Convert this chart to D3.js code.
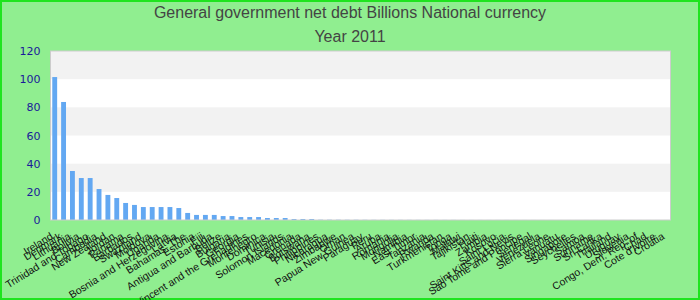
<!DOCTYPE html>
<html><head><meta charset="utf-8">
<script src="https://cdn.jsdelivr.net/npm/d3@7"></script>
<style>body{margin:0;padding:0;background:#fff}svg{display:block}</style>
</head><body>
<svg id="c" width="700" height="300"></svg>
<script>
const categories = ["Ireland","Denmark","Lithuania","Bolivia","Trinidad and Tobago","Cambodia","New Zealand","Jordan","Panama","Barbados",
"Swaziland","Moldova","Uganda","Bosnia and Herzegovina","Latvia","Bahamas, The","Estonia","Fiji","Antigua and Barbuda","Belize",
"Bulgaria","Georgia","Saint Vincent and the Grenadines","Montenegro","Dominica","Tunisia","Solomon Islands","Macedonia","Grenada","Botswana",
"Philippines","Nicaragua","Zimbabwe","Oman","Papua New Guinea","Paraguay","Peru","Aruba","Romania","Mongolia",
"Namibia","East Timor","Tanzania","Rwanda","Turkmenistan","Tonga","Malawi","Tajikistan","Haiti","Zambia",
"Kosovo","Saint Lucia","Saint Kitts and Nevis","Sao Tome and Principe","Senegal","Venezuela","Sierra Leone","Vanuatu","Singapore","Seychelles",
"Samoa","Suriname","Sri Lanka","Thailand","Uruguay","Slovenia","Congo, Dem. Rep. of","Chad","Cote d'Ivoire","Croatia"];
const values = [101.5,83.8,34.8,29.8,29.8,22.0,17.8,15.6,12.1,10.7,
9.2,9.2,9.2,9.2,8.5,5.0,3.6,3.6,3.6,2.8,
2.8,2.1,2.1,2.1,1.4,1.4,1.4,0.7,0.7,0.7,
0.2,0.2,0.18,0.15,0.15,0.12,0.1,0.1,0.09,0.08,
0.08,0.07,0.06,0.06,0.05,0.05,0.04,0.04,0.04,0.03,
0.03,0.03,0.02,0.02,0.02,0.02,0.02,0.01,0.01,0.01,
0.01,0.01,0.01,0.01,0.01,0.01,0.01,0.01,0.01,0.01];
const yTicks = [0,20,40,60,80,100,120];
const title = "General government net debt Billions National currency";
const subtitle = "Year 2011";

const svg = d3.select("#c");
const W = 700, H = 300;
const m = {l:50.5, r:29.5, t:51, b:80};
svg.append("rect").attr("x",1).attr("y",1).attr("width",W-2).attr("height",H-2)
  .attr("fill","#90ee90").attr("stroke","#1fe41f").attr("stroke-width",2);

const x = d3.scaleBand().domain(categories).range([m.l, W-m.r]).paddingInner(0.45).paddingOuter(0.2);
const y = d3.scaleLinear().domain([0,120]).range([H-m.b, m.t]);

const g = svg.append("g");
g.append("rect").attr("x",m.l).attr("y",m.t).attr("width",W-m.r-m.l).attr("height",H-m.b-m.t).attr("fill","#fff");
for (let i=0;i<yTicks.length-1;i++){
  if (i%2===1) {
    g.append("rect").attr("x",m.l).attr("width",W-m.r-m.l)
     .attr("y",y(yTicks[i+1])).attr("height",y(yTicks[i])-y(yTicks[i+1])).attr("fill","#f2f2f2");
  }
}
g.selectAll(".bar").data(values).join("rect").attr("class","bar")
  .attr("x",(d,i)=>x(categories[i])).attr("width",x.bandwidth())
  .attr("y",d=>y(d)).attr("height",d=>y(0)-y(d)).attr("fill","#63a8f2");
g.append("rect").attr("x",m.l).attr("y",m.t).attr("width",W-m.r-m.l).attr("height",H-m.b-m.t)
  .attr("fill","none").attr("stroke","#cccccc").attr("stroke-width",1);

const ya = d3.axisLeft(y).tickValues(yTicks).tickSize(0).tickPadding(10);
const yg = svg.append("g").attr("transform",`translate(${m.l},0)`).call(ya);
yg.select(".domain").remove();
yg.selectAll("text").attr("fill","#1a1a9a").style("font-family","DejaVu Sans").style("font-size","11px");

const xa = d3.axisBottom(x).tickSize(0).tickPadding(0);
const xg = svg.append("g").attr("transform",`translate(0,${H-m.b})`).call(xa);
xg.select(".domain").remove();
xg.selectAll("text")
  .attr("text-anchor","end").attr("fill","#111")
  .style("font-family","Liberation Sans, Arial").style("font-size","10.5px")
  .attr("transform","translate(-3,15) rotate(-32)").attr("dy","0.35em").attr("y",0);

svg.append("text").attr("x",350).attr("y",18).attr("text-anchor","middle")
  .attr("fill","#444").style("font-family","Liberation Sans, Arial").style("font-size","16px").text(title);
svg.append("text").attr("x",350).attr("y",42).attr("text-anchor","middle")
  .attr("fill","#444").style("font-family","Liberation Sans, Arial").style("font-size","16px").text(subtitle);
</script>
</body></html>
